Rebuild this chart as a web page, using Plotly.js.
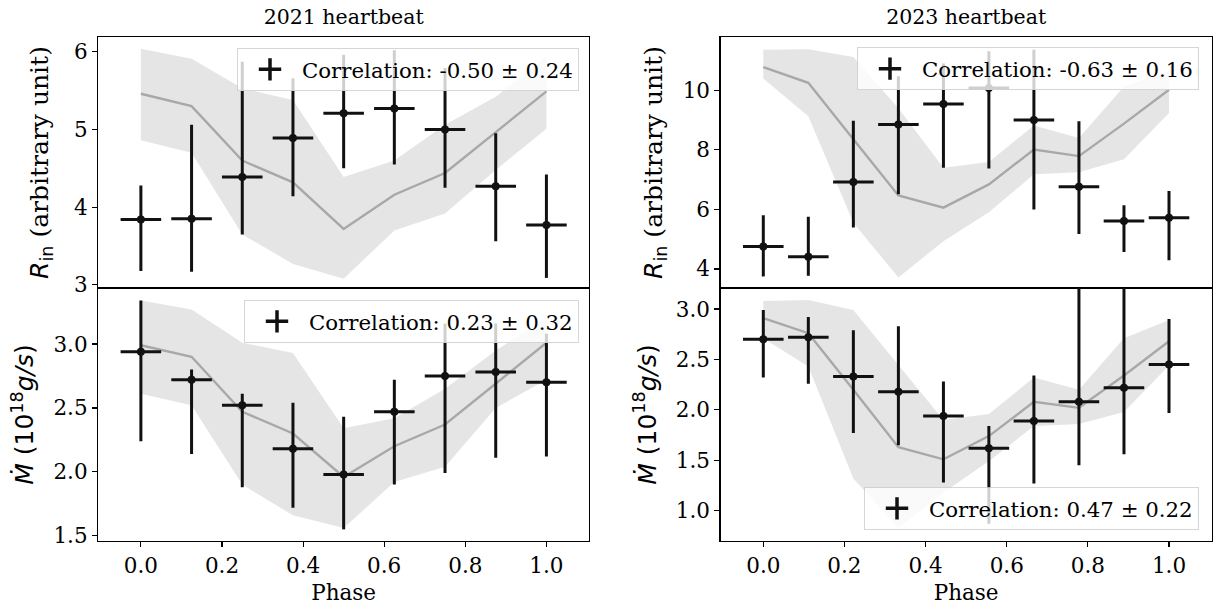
<!DOCTYPE html>
<html>
<head>
<meta charset="utf-8">
<script src="https://cdn.plot.ly/plotly-3.0.1.min.js"></script>
<style>
  html, body { margin: 0; padding: 0; background: #fff; }
  #chart { width: 1215px; height: 607px; }
</style>
</head>
<body>
<div id="chart"></div>
<script>
// ---------------- data ----------------
const phase2021 = [0.0, 0.125, 0.25, 0.375, 0.5, 0.625, 0.75, 0.875, 1.0];
const phase2023 = [0.0, 0.111, 0.222, 0.333, 0.444, 0.556, 0.667, 0.778, 0.889, 1.0];
const phaseHalfWidth = 0.05;

// 2021 inner radius
const rin2021      = [3.84, 3.85, 4.39, 4.89, 5.21, 5.27, 5.00, 4.27, 3.77];
const rin2021Hi    = [4.28, 5.06, 5.87, 5.66, 5.96, 6.02, 5.79, 4.95, 4.42];
const rin2021Lo    = [3.18, 3.17, 3.65, 4.14, 4.50, 4.55, 4.25, 3.56, 3.09];
const rin2021Model   = [5.46, 5.30, 4.60, 4.32, 3.72, 4.16, 4.44, 4.97, 5.49];
const rin2021ModelHi = [6.04, 5.91, 5.53, 5.38, 4.39, 4.60, 5.06, 5.42, 5.94];
const rin2021ModelLo = [4.86, 4.70, 3.65, 3.27, 3.08, 3.70, 3.92, 4.48, 5.01];

// 2021 accretion rate
const mdot2021      = [2.94, 2.72, 2.52, 2.18, 1.98, 2.47, 2.75, 2.78, 2.70];
const mdot2021Hi    = [3.34, 2.80, 2.61, 2.54, 2.43, 2.72, 3.16, 3.16, 3.08];
const mdot2021Lo    = [2.24, 2.14, 1.88, 1.72, 1.55, 1.90, 1.99, 2.11, 2.12];
const mdot2021Model   = [2.99, 2.90, 2.47, 2.30, 1.96, 2.20, 2.37, 2.69, 3.01];
const mdot2021ModelHi = [3.34, 3.27, 3.01, 2.93, 2.34, 2.42, 2.65, 2.95, 3.20];
const mdot2021ModelLo = [2.61, 2.52, 1.90, 1.66, 1.56, 1.92, 2.04, 2.50, 2.72];

// 2023 inner radius
const rin2023      = [4.75, 4.41, 6.92, 8.85, 9.54, 10.08, 9.00, 6.76, 5.61, 5.72];
const rin2023Hi    = [5.80, 5.75, 8.98, 10.47, 10.90, 11.31, 11.36, 8.96, 6.14, 6.62];
const rin2023Lo    = [3.75, 3.77, 5.39, 6.51, 7.40, 7.37, 6.00, 5.17, 4.57, 4.29];
const rin2023Model   = [10.78, 10.25, 8.36, 6.47, 6.06, 6.84, 8.01, 7.79, 8.88, 10.02];
const rin2023ModelHi = [11.36, 11.38, 11.12, 9.40, 7.40, 7.59, 8.82, 8.40, 10.13, 10.64];
const rin2023ModelLo = [10.40, 9.13, 5.55, 3.71, 4.93, 5.90, 7.18, 7.25, 7.68, 9.24];

// 2023 accretion rate
const mdot2023      = [2.70, 2.72, 2.33, 2.18, 1.94, 1.62, 1.89, 2.08, 2.22, 2.45];
const mdot2023Hi    = [2.99, 2.92, 2.79, 2.83, 2.28, 1.84, 2.34, 3.30, 3.30, 2.90];
const mdot2023Lo    = [2.32, 2.26, 1.77, 1.65, 1.28, 0.87, 1.27, 1.45, 1.56, 1.97];
const mdot2023Model   = [2.91, 2.76, 2.20, 1.63, 1.51, 1.74, 2.08, 2.02, 2.34, 2.68];
const mdot2023ModelHi = [3.08, 3.09, 2.99, 2.45, 1.90, 1.96, 2.32, 2.20, 2.71, 2.89];
const mdot2023ModelLo = [2.71, 2.43, 1.32, 0.83, 1.18, 1.49, 1.84, 1.86, 1.98, 2.44];

const correlationLabels = [
  'Correlation: -0.50 ± 0.24',
  'Correlation: 0.23 ± 0.32',
  'Correlation: -0.63 ± 0.16',
  'Correlation: 0.47 ± 0.22'
];
const panelTitles = ['2021 heartbeat', '2023 heartbeat'];
const xLabel = 'Phase';
const rinLabel = '<span style="font-family:DejaVu Sans"><i>R</i><sub>in</sub></span> (arbitrary unit)';
const mdotLabel = '<span style="font-family:DejaVu Sans"><i>Ṁ</i> (10<sup>18</sup><i>g/s</i>)</span>';

// ---------------- styling ----------------
const SERIF = 'DejaVu Serif, serif';
const TICK_FS = 21.5;
const LEG_FS = 21.3;
const XLAB_FS = 21.5;
const YLAB_FS = 25;
const TITLE_FS = 20.5;
const BAND = 'rgba(211,211,211,0.6)';
const MODEL = 'rgb(168,168,168)';
const INK = '#111111';

function panel(xs, val, hi, lo, model, mHi, mLo, xa, ya, legendId, label) {
  const plus = val.map((v, i) => hi[i] - v);
  const minus = val.map((v, i) => v - lo[i]);
  const xe = xs.map(() => phaseHalfWidth);
  return [
    { x: xs, y: mLo, xaxis: xa, yaxis: ya, type: 'scatter', mode: 'lines',
      line: { width: 0, color: BAND }, showlegend: false, hoverinfo: 'skip' },
    { x: xs, y: mHi, xaxis: xa, yaxis: ya, type: 'scatter', mode: 'lines',
      line: { width: 0, color: BAND }, fill: 'tonexty', fillcolor: BAND,
      showlegend: false, hoverinfo: 'skip' },
    { x: xs, y: model, xaxis: xa, yaxis: ya, type: 'scatter', mode: 'lines',
      line: { width: 2.4, color: MODEL }, showlegend: false },
    { x: xs, y: val, xaxis: xa, yaxis: ya, type: 'scatter', mode: 'markers',
      marker: { color: INK, size: 8 },
      error_y: { type: 'data', symmetric: false, array: plus, arrayminus: minus,
                 color: INK, thickness: 3, width: 0 },
      error_x: { type: 'data', array: xe, color: INK, thickness: 3, width: 0 },
      showlegend: false },
    { x: [null], y: [null], xaxis: xa, yaxis: ya, type: 'scatter', mode: 'markers',
      name: label, legend: legendId,
      marker: { color: INK, symbol: 'cross-thin', size: 16, line: { width: 3.5, color: INK } } }
  ];
}

const data = [].concat(
  panel(phase2021, rin2021, rin2021Hi, rin2021Lo, rin2021Model, rin2021ModelHi, rin2021ModelLo, 'x', 'y', 'legend', correlationLabels[0]),
  panel(phase2021, mdot2021, mdot2021Hi, mdot2021Lo, mdot2021Model, mdot2021ModelHi, mdot2021ModelLo, 'x2', 'y2', 'legend2', correlationLabels[1]),
  panel(phase2023, rin2023, rin2023Hi, rin2023Lo, rin2023Model, rin2023ModelHi, rin2023ModelLo, 'x3', 'y3', 'legend3', correlationLabels[2]),
  panel(phase2023, mdot2023, mdot2023Hi, mdot2023Lo, mdot2023Model, mdot2023ModelHi, mdot2023ModelLo, 'x4', 'y4', 'legend4', correlationLabels[3])
);

const W = 1215, H = 607;
const px = v => v / W;
const py = v => 1 - v / H;
const leftDom = [px(98.3), px(589)];
const rightDom = [px(720.7), px(1211.6)];
const topDom = [py(288), py(37)];
const botDom = [py(541), py(288)];
const XR = [-0.105, 1.105];

function xax(dom, anchor, showLabels, title) {
  const ax = {
    domain: dom, anchor: anchor, range: XR, showgrid: false, zeroline: false,
    showline: true, mirror: true, linecolor: '#000', linewidth: 1.4,
    ticks: showLabels ? 'outside' : '', ticklen: 5, tickwidth: 1.2, tickcolor: '#000',
    showticklabels: showLabels, tickvals: [0, 0.2, 0.4, 0.6, 0.8, 1.0],
    ticktext: ['0.0', '0.2', '0.4', '0.6', '0.8', '1.0'],
    tickfont: { family: SERIF, size: TICK_FS, color: '#000' }, automargin: false
  };
  if (showLabels) {
    ax.title = { text: title, font: { family: SERIF, size: XLAB_FS, color: '#000' }, standoff: 7 };
  } else {
    ax.side = 'top';
    ax.title = { text: title, font: { family: SERIF, size: TITLE_FS, color: '#000' }, standoff: 5 };
  }
  return ax;
}
function yax(dom, anchor, range, tickvals, ticktext, title, standoff) {
  return {
    domain: dom, anchor: anchor, range: range, showgrid: false, zeroline: false,
    showline: true, mirror: true, linecolor: '#000', linewidth: 1.4,
    ticks: 'outside', ticklen: 5, tickwidth: 1.2, tickcolor: '#000',
    tickvals: tickvals, ticktext: ticktext, automargin: false,
    tickfont: { family: SERIF, size: TICK_FS, color: '#000' },
    title: { text: title, font: { family: SERIF, size: YLAB_FS, color: '#000' }, standoff: standoff }
  };
}

function legendAt(xr, y, yanchor) {
  return {
    x: xr, y: y, xanchor: 'right', yanchor: yanchor,
    bgcolor: 'rgba(255,255,255,0.8)', bordercolor: 'rgba(204,204,204,0.8)', borderwidth: 1,
    font: { family: SERIF, size: LEG_FS, color: '#000' }, itemwidth: 54
  };
}

const layout = {
  width: W, height: H,
  margin: { l: 0, r: 0, t: 0, b: 0 },
  paper_bgcolor: '#fff', plot_bgcolor: '#fff',
  showlegend: true,
  xaxis: xax(leftDom, 'y', false, panelTitles[0]),
  xaxis2: xax(leftDom, 'y2', true, xLabel),
  xaxis3: xax(rightDom, 'y3', false, panelTitles[1]),
  xaxis4: xax(rightDom, 'y4', true, xLabel),
  yaxis: yax(topDom, 'x', [2.96, 6.19], [3, 4, 5, 6], ['3', '4', '5', '6'], rinLabel, 18),
  yaxis2: yax(botDom, 'x2', [1.459, 3.438], [1.5, 2.0, 2.5, 3.0], ['1.5', '2.0', '2.5', '3.0'], mdotLabel, 12),
  yaxis3: yax(topDom, 'x3', [3.36, 11.79], [4, 6, 8, 10], ['4', '6', '8', '10'], rinLabel, 13),
  yaxis4: yax(botDom, 'x4', [0.70, 3.208], [1.0, 1.5, 2.0, 2.5, 3.0], ['1.0', '1.5', '2.0', '2.5', '3.0'], mdotLabel, 12),
  legend: legendAt(px(579), py(48), 'top'),
  legend2: legendAt(px(579), py(300), 'top'),
  legend3: legendAt(px(1199), py(47.3), 'top'),
  legend4: legendAt(px(1199), py(530), 'bottom')
};

Plotly.newPlot('chart', data, layout, { staticPlot: true, displayModeBar: false });
</script>
</body>
</html>
